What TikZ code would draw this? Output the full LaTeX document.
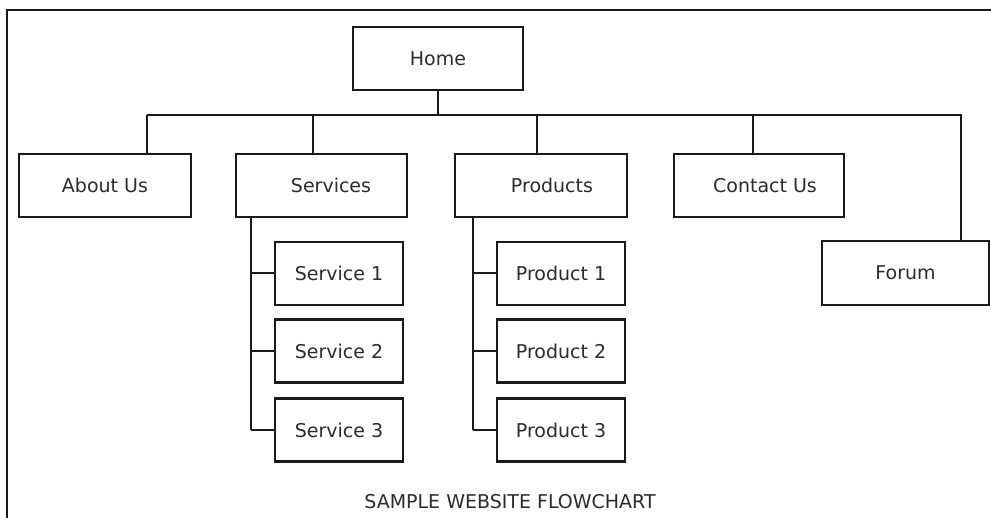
\documentclass[tikz,border=0pt]{standalone}
\usepackage{fontspec}
\setmainfont{DejaVu Sans}
\usepackage{tikz}
\usetikzlibrary{positioning,calc}
\definecolor{boxline}{HTML}{1A1A1A}
\definecolor{captext}{HTML}{2B2B2B}

\begin{document}
\begin{tikzpicture}[x=1pt,y=-1pt,
    page/.style={draw=boxline,line width=2.3pt,minimum height=63pt,inner sep=0pt,
      text=captext,font=\fontsize{19}{22}\selectfont},
    link/.style={draw=boxline,line width=2pt}]
  \useasboundingbox (0,0) rectangle (991,518);
  \draw[boxline,line width=2.6pt] (7,518) -- (7,10) -- (991,10);
  \node[page,minimum width=170pt] (home) at (438,58.5) {Home};
  \foreach \nm/\lab/\cx/\bw/\tx/\sh in {
      about/About Us/105/172/147/0,
      services/Services/321.5/171/313/19,
      products/Products/541/172/537/22,
      contact/Contact Us/759/170/753/12} {
    \node[page,minimum width=\bw pt] (\nm) at (\cx,185.5) {\hspace*{\sh pt}\lab};
    \coordinate (t-\nm) at (\tx,115);
    \draw[link] (t-\nm) -- (t-\nm |- \nm.north);
  }
  \node[page,minimum width=167pt,minimum height=64pt] (forum) at (905.5,273) {Forum};
  \coordinate (t-forum) at (961,115);
  \draw[link] (home.south) -- (home.south |- t-about);
  \draw[link] (t-about) -- (t-forum) -- (t-forum |- forum.north);
  \coordinate (s-rail) at (251,217);
  \coordinate (p-rail) at (473,217);
  \foreach \i/\cy in {1/273.5,2/351,3/430} {
    \node[page,minimum width=128pt] (serv\i) at (339,\cy) {Service \i};
    \node[page,minimum width=128pt] (prod\i) at (561,\cy) {Product \i};
    \draw[link] (serv\i.west) -- (serv\i.west -| s-rail);
    \draw[link] (prod\i.west) -- (prod\i.west -| p-rail);
  }
  \draw[link] (s-rail) -- (s-rail |- serv3.west);
  \draw[link] (p-rail) -- (p-rail |- prod3.west);
  \node[text=captext,font=\fontsize{19}{22}\selectfont] (caption) at (510,502) {SAMPLE WEBSITE FLOWCHART};
\end{tikzpicture}
\end{document}
